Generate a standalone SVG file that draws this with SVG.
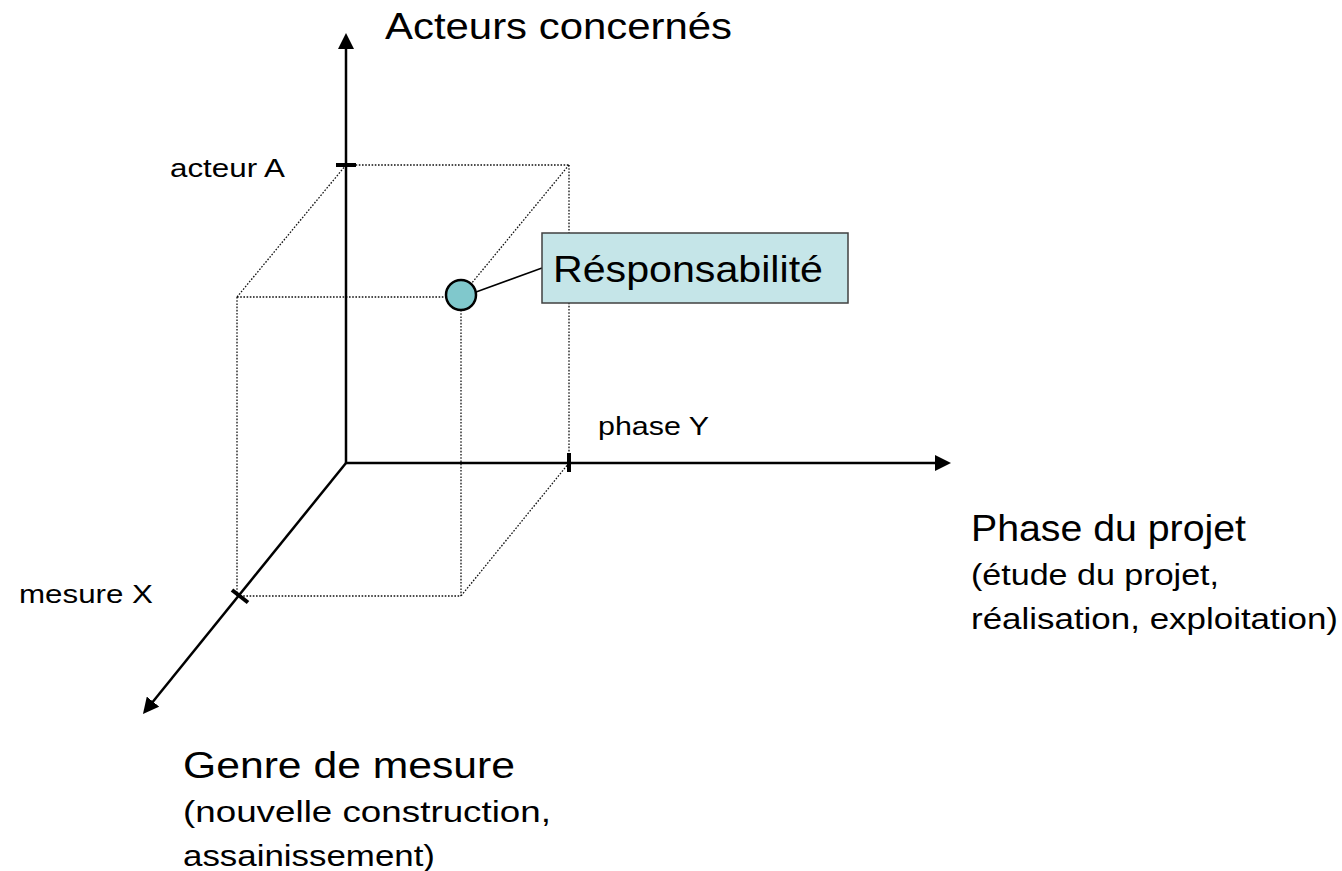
<svg xmlns="http://www.w3.org/2000/svg" width="1342" height="871" viewBox="0 0 1342 871">
  <style>
    .axis { stroke: #000; stroke-width: 2.5; fill: none; }
    .tick { stroke: #000; stroke-width: 4; fill: none; }
    .guide { stroke: #111; stroke-width: 1.3; stroke-dasharray: 1.6 1.6; fill: none; }
    .lbl { font-family: "Liberation Sans", Arial, sans-serif; fill: #000; }
  </style>
  <defs>
    <marker id="arrow" markerUnits="userSpaceOnUse" markerWidth="16" markerHeight="16" refX="8" refY="8" orient="auto">
      <path d="M0,0 L16,8 L0,16 z" fill="#000"/>
    </marker>
  </defs>
  <rect width="1342" height="871" fill="#fff"/>

  <!-- dotted cube edges -->
  <g id="cube">
    <line class="guide" x1="346" y1="165" x2="569" y2="165"/>
    <line class="guide" x1="569" y1="165" x2="569" y2="463"/>
    <line class="guide" x1="569" y1="165" x2="471" y2="284"/>
    <line class="guide" x1="346" y1="165" x2="237" y2="297"/>
    <line class="guide" x1="237" y1="297" x2="446" y2="297"/>
    <line class="guide" x1="237" y1="297" x2="237" y2="596"/>
    <line class="guide" x1="461" y1="310" x2="461" y2="596"/>
    <line class="guide" x1="240" y1="596" x2="461" y2="596"/>
    <line class="guide" x1="569" y1="463" x2="461" y2="596"/>
  </g>

  <!-- axes -->
  <g id="connectors">
    <line class="axis" x1="346" y1="463" x2="346" y2="41" marker-end="url(#arrow)"/>
    <line class="axis" x1="346" y1="463" x2="943" y2="463" marker-end="url(#arrow)"/>
    <line class="axis" x1="346" y1="463" x2="148" y2="707.8" marker-end="url(#arrow)"/>
    <line stroke="#000" stroke-width="1.5" x1="476" y1="292" x2="542" y2="268"/>
  </g>

  <!-- tick marks -->
  <g id="ticks">
    <line class="tick" x1="336" y1="165" x2="356" y2="165"/>
    <line class="tick" x1="569" y1="453" x2="569" y2="472"/>
    <line class="tick" x1="232" y1="590" x2="248" y2="602.5"/>
  </g>

  <g id="point">
    <circle cx="461" cy="295" r="15" fill="#80C8CC" stroke="#000" stroke-width="2.5"/>
  </g>

  <g id="responsabilite">
    <rect x="542" y="233" width="306" height="70" fill="#C5E5E8" stroke="#404040" stroke-width="1.5"/>
    <text class="lbl" x="553" y="282" font-size="36" textLength="270" lengthAdjust="spacingAndGlyphs">Résponsabilité</text>
  </g>

  <g id="axis-y-label">
    <text class="lbl" x="385" y="39" font-size="36" textLength="347" lengthAdjust="spacingAndGlyphs">Acteurs concernés</text>
  </g>
  <g id="tick-y-label">
    <text class="lbl" x="170" y="177" font-size="26.5" textLength="115" lengthAdjust="spacingAndGlyphs">acteur A</text>
  </g>
  <g id="tick-x-label">
    <text class="lbl" x="598" y="435" font-size="26.5" textLength="111" lengthAdjust="spacingAndGlyphs">phase Y</text>
  </g>
  <g id="tick-z-label">
    <text class="lbl" x="19" y="603" font-size="26.5" textLength="134" lengthAdjust="spacingAndGlyphs">mesure X</text>
  </g>

  <g id="axis-x-label">
    <text class="lbl" x="971" y="541" font-size="36" textLength="275" lengthAdjust="spacingAndGlyphs">Phase du projet</text>
    <text class="lbl" x="971" y="585" font-size="30" textLength="248" lengthAdjust="spacingAndGlyphs">(étude du projet,</text>
    <text class="lbl" x="971" y="629" font-size="30" textLength="367" lengthAdjust="spacingAndGlyphs">réalisation, exploitation)</text>
  </g>

  <g id="axis-z-label">
    <text class="lbl" x="183" y="778" font-size="36" textLength="332" lengthAdjust="spacingAndGlyphs">Genre de mesure</text>
    <text class="lbl" x="183" y="822" font-size="30" textLength="368" lengthAdjust="spacingAndGlyphs">(nouvelle construction,</text>
    <text class="lbl" x="183" y="866" font-size="30" textLength="252" lengthAdjust="spacingAndGlyphs">assainissement)</text>
  </g>
</svg>
